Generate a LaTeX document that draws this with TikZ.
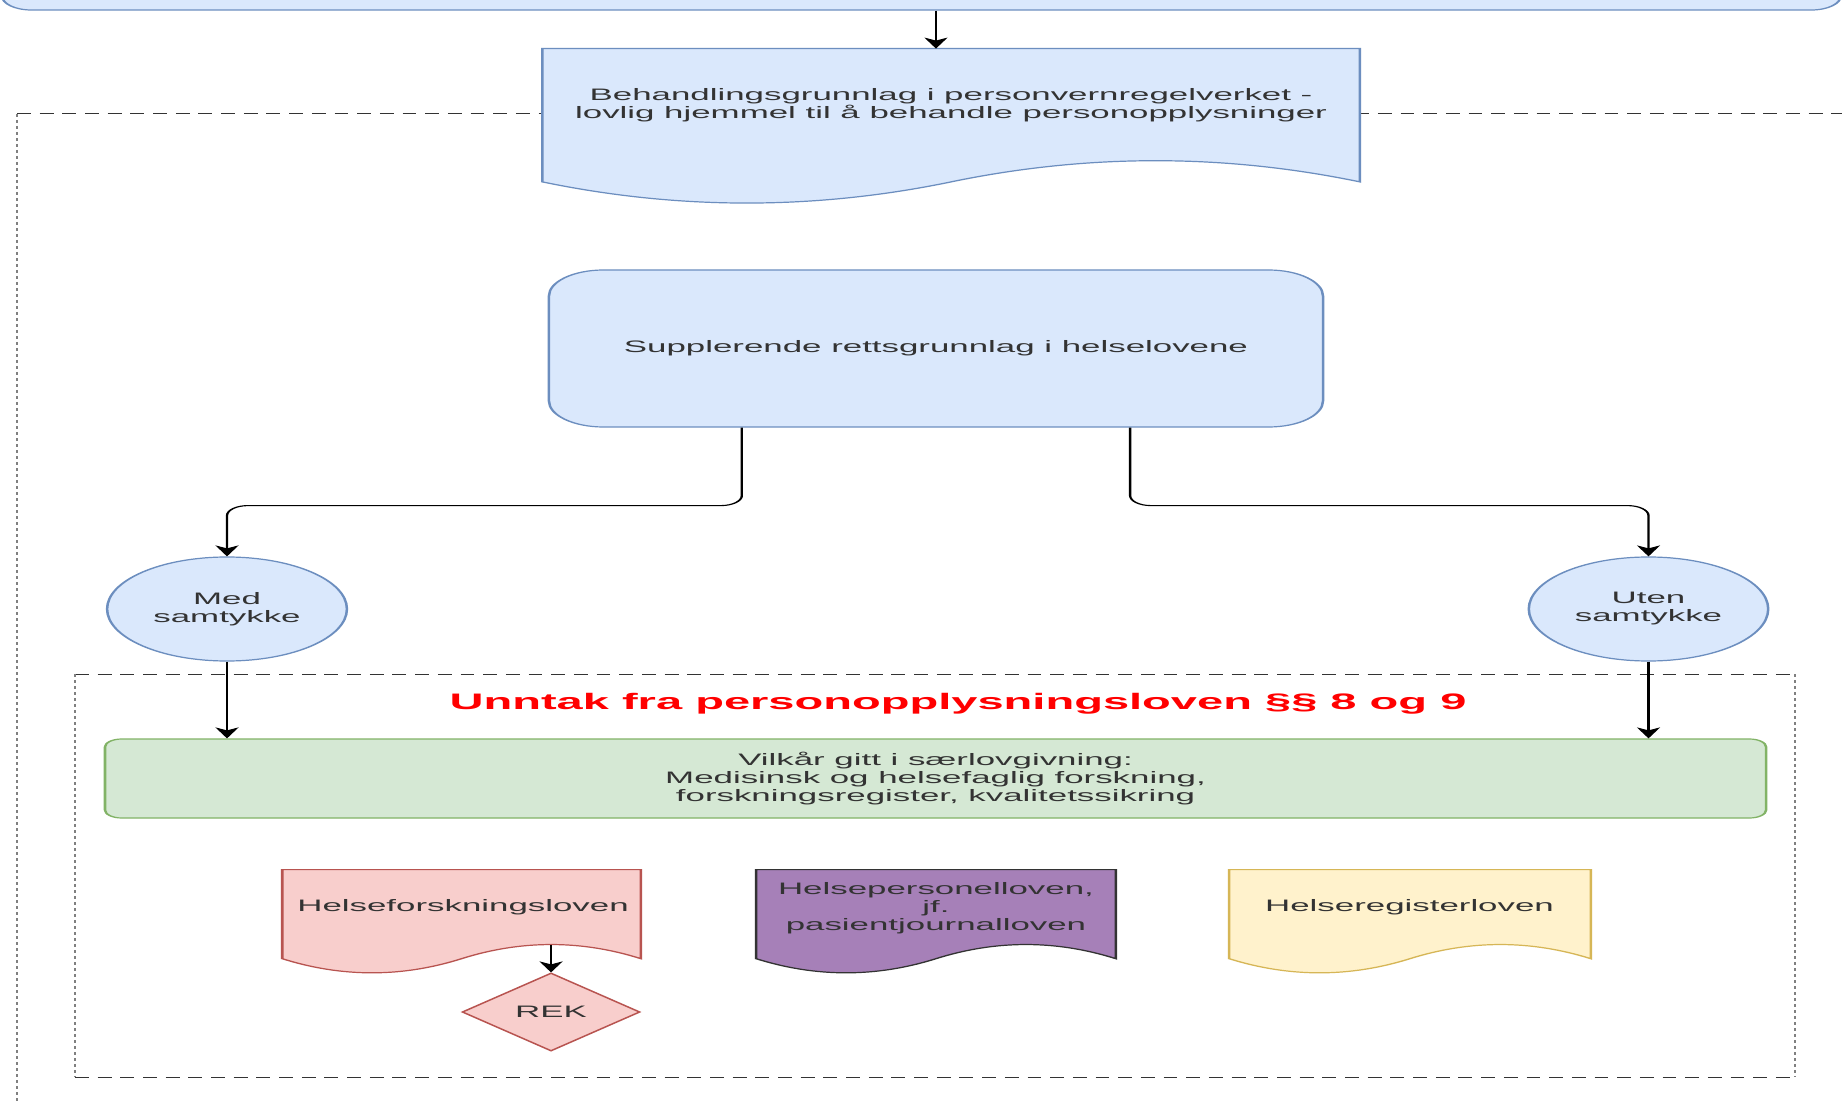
\documentclass[tikz,border=0pt]{standalone}
\usepackage{fontspec}
\setmainfont{Liberation Sans}
\usetikzlibrary{arrows.meta,shapes.geometric,calc}

\definecolor{bluefill}{HTML}{DAE8FC}
\definecolor{blueline}{HTML}{6C8EBF}
\definecolor{greenfill}{HTML}{D5E8D4}
\definecolor{greenline}{HTML}{82B366}
\definecolor{rosefill}{HTML}{F8CECC}
\definecolor{roseline}{HTML}{B85450}
\definecolor{purpfill}{HTML}{A680B8}
\definecolor{yelfill}{HTML}{FFF2CC}
\definecolor{yelline}{HTML}{D6B656}
\definecolor{txtgray}{HTML}{333333}

% document shape with a wavy bottom, drawn over the box of node #1
\newcommand\wavedoc[2]{%
  \path[#2] let \p1=(#1.north west), \p2=(#1.south east) in
    (\p1) -- (\x2,\y1) -- (\x2,{\y1+0.85*(\y2-\y1)})
    .. controls ({\x1+0.8333*(\x2-\x1)},{\y1+0.67*(\y2-\y1)}) and ({\x1+0.6667*(\x2-\x1)},{\y1+0.67*(\y2-\y1)}) .. ({\x1+0.5*(\x2-\x1)},{\y1+0.85*(\y2-\y1)})
    .. controls ({\x1+0.3333*(\x2-\x1)},{\y1+1.03*(\y2-\y1)}) and ({\x1+0.1667*(\x2-\x1)},{\y1+1.03*(\y2-\y1)}) .. (\x1,{\y1+0.85*(\y2-\y1)})
    -- cycle;}

\begin{document}
\begin{tikzpicture}[x=0.5pt,y=-0.5pt,
  txt/.style={font=\fontsize{8.3}{9}\selectfont, text=txtgray, align=center, inner sep=0pt},
  ttl/.style={font=\fontsize{11.2}{13}\selectfont\bfseries, text=red, inner sep=0pt},
  blu/.style={fill=bluefill, draw=blueline, line width=0.6pt},
  grn/.style={fill=greenfill, draw=greenline, line width=0.6pt},
  rose/.style={fill=rosefill, draw=roseline, line width=0.6pt},
  purp/.style={fill=purpfill, draw=txtgray, line width=0.6pt},
  yel/.style={fill=yelfill, draw=yelline, line width=0.6pt},
  docframe/.style={minimum height=52pt, inner sep=0pt},
  arr/.style={-{Stealth[length=5.5pt,width=5.5pt,inset=1.5pt]}, line width=0.55pt},
  hdash/.style={dash pattern=on 3.3pt off 2.1pt, line width=0.5pt, draw=black!80},
  vdot/.style={dash pattern=on 1.5pt off 1.5pt, line width=0.5pt, draw=black!50}]

\useasboundingbox (0,0) rectangle (1842,1101);
\fill[white] (0,0) rectangle (1842,1101);
\clip (0,0) rectangle (1842,1101);

\begin{scope}[transform canvas={xscale=2.1}]
% frames
\draw[hdash] (8.1,114) -- (900,114);
\draw[vdot] (8.1,114) -- (8.1,1200);
\draw[hdash] (35.7,674) -- (854.8,674) (35.7,1077) -- (854.8,1077);
\draw[vdot] (35.7,674) -- (35.7,1077) (854.8,674) -- (854.8,1077);

% upper part
\node[blu, rounded corners=7pt, minimum width=437.8pt, minimum height=35pt] (top) at (438.75,-25) {};

\node[docframe, minimum width=194.25pt, minimum height=78pt] (doc1) at (452.9,127) {};
\wavedoc{doc1}{blu}
\node[txt] (doc1t) at (452.9,105) {Behandlingsgrunnlag i personvernregelverket -\\lovlig hjemmel til å behandle personopplysninger};

\node[blu, txt, rounded corners=13pt, minimum width=184.3pt, minimum height=78.5pt] (sup) at (445.7,348.5) {Supplerende rettsgrunnlag i helselovene};

\node[blu, txt, ellipse, minimum width=57.1pt, minimum height=52pt] (med) at (108.1,609) {Med\\samtykke};
\node[blu, txt, ellipse, minimum width=57pt, minimum height=52pt] (uten) at (785,609) {Uten\\samtykke};

% lower part
\node[ttl, anchor=base] (ttl) at (456.2,709) {Unntak fra personopplysningsloven §§ 8 og 9};

\node[grn, txt, rounded corners=4pt, minimum width=395.5pt, minimum height=39.5pt] (vilk) at (445.5,778.5) {Vilkår gitt i særlovgivning:\\Medisinsk og helsefaglig forskning,\\forskningsregister, kvalitetssikring};

\node[docframe, minimum width=85pt] (hfl) at (219.8,922) {};
\wavedoc{hfl}{rose}
\node[txt] (hflt) at (220.5,907) {Helseforskningsloven};

\node[docframe, minimum width=85.25pt] (hpl) at (445.7,922) {};
\wavedoc{hpl}{purp}
\node[txt] (hplt) at (445.7,908) {Helsepersonelloven,\\jf.\\pasientjournalloven};

\node[docframe, minimum width=85.7pt] (hrl) at (671.4,922) {};
\wavedoc{hrl}{yel}
\node[txt] (hrlt) at (671.2,907) {Helseregisterloven};

\node[rose, txt, diamond, minimum width=42.4pt, minimum height=39pt] (rek) at (262.4,1012) {REK};

% connectors
\draw[arr] (top.south -| sup.north) -- (doc1.north -| sup.north);
\draw[arr, rounded corners=5pt] ($(sup.south west)!0.25!(sup.south east)$) -- ++(0,78) -| (med.north);
\draw[arr, rounded corners=5pt] ($(sup.south west)!0.75!(sup.south east)$) -- ++(0,78) -| (uten.north);
\draw[arr] (med.south) -- (med.south |- vilk.north);
\draw[arr] (uten.south) -- (uten.south |- vilk.north);
\coordinate (hflpeak) at ($(hfl.north west)!0.715!(hfl.south west)$);
\draw[arr] (hflpeak -| rek.north) -- (rek.north);
\end{scope}
\end{tikzpicture}
\end{document}
